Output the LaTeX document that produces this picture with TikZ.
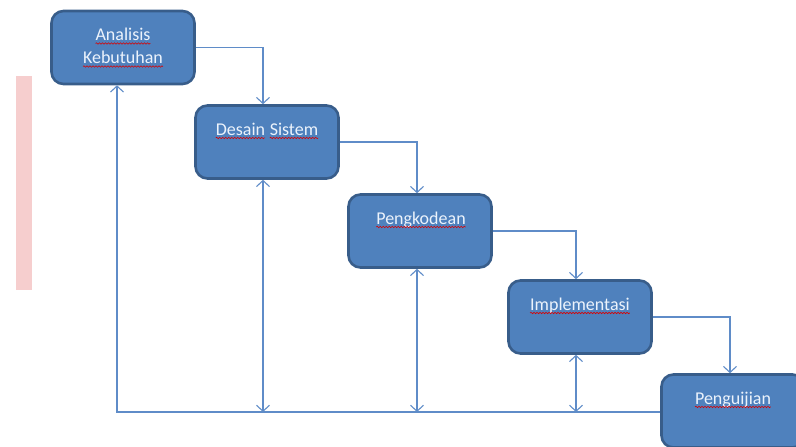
\documentclass[tikz,border=0pt]{standalone}
\usepackage{fontspec}
\setmainfont{Carlito}
\usetikzlibrary{arrows.meta,decorations.pathmorphing,calc}
\definecolor{boxfill}{RGB}{79,129,189}
\definecolor{boxline}{RGB}{56,93,138}
\definecolor{conn}{RGB}{95,140,200}
\definecolor{txt}{RGB}{236,243,252}
\definecolor{band}{RGB}{246,206,206}
\newcommand{\wavy}[1]{\tikz[baseline=(w.base),x=1pt,y=1pt]{\node[inner sep=0pt,outer sep=0pt] (w) {#1};\draw[red!85!black,line width=0.6pt,decorate,decoration={snake,amplitude=0.7pt,segment length=3pt}] ([yshift=-2.5pt]w.base west) -- ([yshift=-2.5pt]w.base east);}}
\tikzset{
  stage/.style={draw=boxline, fill=boxfill, line width=2.6pt, rounded corners=12pt,
    minimum width=143pt, minimum height=73pt, inner sep=0pt},
  lbl/.style={text=txt, font=\fontsize{18}{24}\selectfont, align=center, inner sep=0pt},
  conn/.style={draw=conn, line width=1.2pt},
  tip/.style={-{Straight Barb[length=6pt,width=13pt,line width=1.1pt]}},
  dtip/.style={{Straight Barb[length=6pt,width=13pt,line width=1.1pt]}-{Straight Barb[length=6pt,width=13pt,line width=1.1pt]}}
}
\begin{document}
\begin{tikzpicture}[x=1pt,y=-1pt]
\useasboundingbox (0,0) rectangle (796,447);
\begin{scope}
\clip (0,0) rectangle (796,447);
\fill[band] (16,76) rectangle (32,290);
\node[stage] (b1) at (123,47.5) {};
\node[stage] (b2) at (267,142) {};
\node[stage] (b3) at (420,231) {};
\node[stage] (b4) at (580,317) {};
\node[stage] (b5) at (733,411) {};
\node[lbl] (t1) at (123,48) {\wavy{Analisis}\\[-1pt]\wavy{Kebutuhan}};
\node[lbl] (t2) at (267,131) {\wavy{Desain} \wavy{Sistem}};
\node[lbl] (t3) at (421,220) {\wavy{Pengkodean}};
\node[lbl] (t4) at (580,306) {\wavy{Implementasi}};
\node[lbl] (t5) at (733,400) {\wavy{Penguijian}};
\coordinate (base) at (117,412);
\draw[conn,tip] (b1.east) -| ([xshift=-4pt]b2.north);
\draw[conn,tip] (b2.east) -| ([xshift=-3pt]b3.north);
\draw[conn,tip] (b3.east) -| ([xshift=-4pt]b4.north);
\draw[conn,tip] (b4.east) -| ([xshift=-3pt]b5.north);
\draw[conn,tip] (b5.west |- base) -| ([xshift=-6pt]b1.south);
\draw[conn,dtip] ([xshift=-4pt]b2.south) -- ([xshift=-4pt]b2.south |- base);
\draw[conn,dtip] ([xshift=-3pt]b3.south) -- ([xshift=-3pt]b3.south |- base);
\draw[conn,dtip] ([xshift=-4pt]b4.south) -- ([xshift=-4pt]b4.south |- base);
\end{scope}
\end{tikzpicture}
\end{document}
